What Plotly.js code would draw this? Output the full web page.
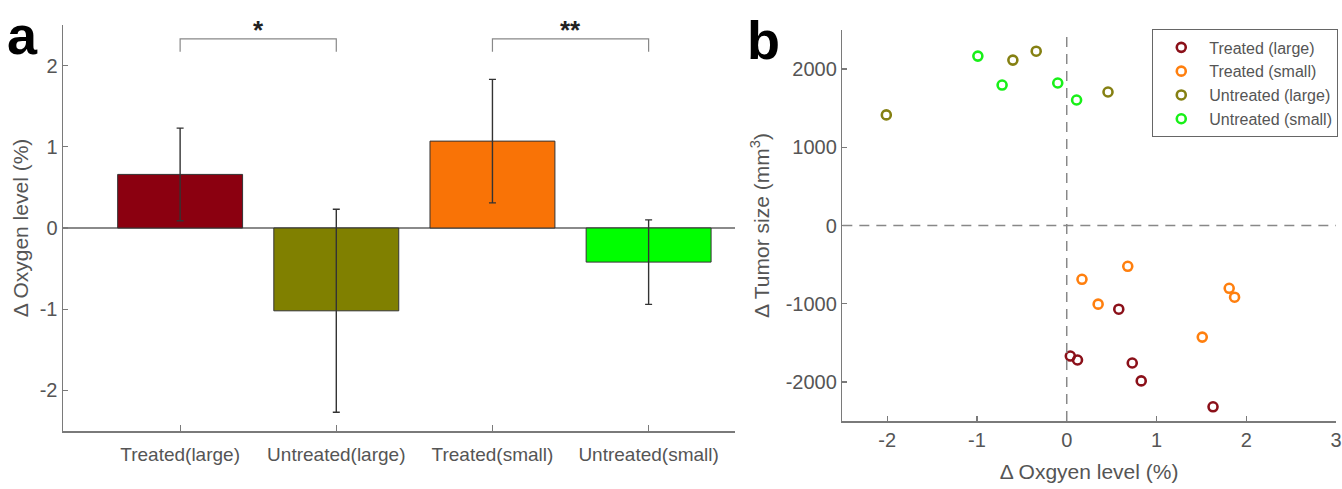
<!DOCTYPE html>
<html>
<head>
<meta charset="utf-8">
<script src="https://cdn.plot.ly/plotly-3.0.1.min.js"></script>
<style>html,body{margin:0;padding:0;background:#fff;}#chart{width:1342px;height:489px;}</style>
</head>
<body>
<div id="chart"></div>
<script>
// ---- Panel a data ----
const barCategories = ['Treated(large)', 'Untreated(large)', 'Treated(small)', 'Untreated(small)'];
const barMeans = [0.66, -1.02, 1.07, -0.42];
const barErrors = [0.57, 1.25, 0.76, 0.52];
const barColors = ['#8b0010', '#808000', '#f97306', '#00ff00'];
const sigPairs = [[0, 1, '*'], [2, 3, '**']];
const sigLevel = 2.33;
const aTickVals = [-2, -1, 0, 1, 2];
const aTickText = ['-2', '-1', '0', '1', '2'];

// ---- Panel b data ----
const seriesNames = ['Treated (large)', 'Treated (small)', 'Untreated (large)', 'Untreated (small)'];
const seriesColors = ['#8b1019', '#ff7f0e', '#858012', '#18f018'];
const treatedLargeX = [0.58, 0.04, 0.12, 0.73, 0.83, 1.63];
const treatedLargeY = [-1070, -1669, -1720, -1758, -1987, -2318];
const treatedSmallX = [0.17, 0.68, 0.35, 1.81, 1.87, 1.51];
const treatedSmallY = [-688, -522, -1006, -803, -917, -1427];
const untreatedLargeX = [-2.01, -0.60, -0.34, 0.46];
const untreatedLargeY = [1414, 2115, 2229, 1707];
const untreatedSmallX = [-0.99, -0.72, -0.10, 0.11];
const untreatedSmallY = [2166, 1796, 1822, 1605];
const bXTickVals = [-2, -1, 0, 1, 2, 3];
const bXTickText = ['-2', '-1', '0', '1', '2', '3'];
const bYTickVals = [-2000, -1000, 0, 1000, 2000];
const bYTickText = ['-2000', '-1000', '0', '1000', '2000'];

const FONT = 'Liberation Sans, Arial, sans-serif';
const AX = '#7a7a7a';
const TXT = '#555555';

const traces = [];
traces.push({
  type: 'bar', x: barCategories, y: barMeans, width: 0.8,
  marker: {color: barColors, line: {color: '#333', width: 1}},
  error_y: {type: 'data', array: barErrors, visible: true, color: '#333', thickness: 1.4, width: 3.5},
  xaxis: 'x', yaxis: 'y', showlegend: false, hoverinfo: 'skip'
});
const sx = [treatedLargeX, treatedSmallX, untreatedLargeX, untreatedSmallX];
const sy = [treatedLargeY, treatedSmallY, untreatedLargeY, untreatedSmallY];
for (let i = 0; i < seriesNames.length; i++) {
  traces.push({
    type: 'scatter', mode: 'markers', name: seriesNames[i], x: sx[i], y: sy[i],
    marker: {symbol: 'circle-open', size: 9, color: seriesColors[i], line: {width: 2.6, color: seriesColors[i]}},
    xaxis: 'x2', yaxis: 'y2'
  });
}

const shapes = [];
const annotations = [];
sigPairs.forEach(p => {
  shapes.push({type: 'path', xref: 'x', yref: 'y',
    path: `M ${p[0]} ${sigLevel - 0.16} L ${p[0]} ${sigLevel} L ${p[1]} ${sigLevel} L ${p[1]} ${sigLevel - 0.16}`,
    line: {color: '#888', width: 1.2}});
  annotations.push({xref: 'x', yref: 'y', x: (p[0] + p[1]) / 2, y: sigLevel - 0.1, text: '<b>' + p[2] + '</b>',
    showarrow: false, yanchor: 'bottom', font: {family: FONT, size: 26, color: '#222'}});
});
shapes.push({type: 'line', xref: 'x2', yref: 'y2', x0: 0, x1: 0, y0: -2500, y1: 2500,
  line: {color: '#888', width: 1.5, dash: '10px,7px'}});
shapes.push({type: 'line', xref: 'x2', yref: 'y2', x0: -2.5, x1: 3, y0: 0, y1: 0,
  line: {color: '#888', width: 1.5, dash: '10px,7px'}});

annotations.push({xref: 'paper', yref: 'paper', x: -0.032, y: 0.976, xanchor: 'center', yanchor: 'middle',
  text: '<b>a</b>', showarrow: false, font: {family: FONT, size: 54, color: '#000'}});
annotations.push({xref: 'paper', yref: 'paper', x: 0.550, y: 0.964, xanchor: 'center', yanchor: 'middle',
  text: '<b>b</b>', showarrow: false, font: {family: FONT, size: 54, color: '#000'}});

const axBase = {showgrid: false, showline: true, linecolor: AX, linewidth: 1.5, ticks: 'inside', ticklen: 5,
  tickcolor: AX, tickwidth: 1.2, mirror: false, automargin: false};

const layout = {
  width: 1342, height: 489,
  margin: {l: 63, r: 5, t: 25, b: 58},
  paper_bgcolor: '#fff', plot_bgcolor: '#fff',
  font: {family: FONT, color: TXT},
  showlegend: true,
  legend: {x: 1.001, xanchor: 'right', y: 0.989, yanchor: 'top', bordercolor: '#666', borderwidth: 1,
    bgcolor: '#fff', font: {family: FONT, size: 16, color: '#555'}, itemwidth: 46, tracegroupgap: 0},
  xaxis: Object.assign({}, axBase, {domain: [0, 0.5275], anchor: 'y', type: 'category', range: [-0.75, 3.55],
    tickfont: {size: 19, color: TXT}, ticklen: 6, ticklabelstandoff: 6}),
  yaxis: Object.assign({}, axBase, {domain: [0, 1], anchor: 'x', range: [-2.5, 2.5],
    tickvals: aTickVals, ticktext: aTickText,
    tickfont: {size: 20, color: TXT}, zeroline: true, zerolinecolor: '#8a8a8a', zerolinewidth: 1.3,
    title: {text: '\u0394 Oxygen level (%)', font: {size: 21, color: '#555'}, standoff: 5}}),
  xaxis2: Object.assign({}, axBase, {domain: [0.6122, 1], anchor: 'y2', range: [-2.5, 3],
    tickvals: bXTickVals, ticktext: bXTickText,
    tickfont: {size: 20, color: TXT}, zeroline: false,
    title: {text: '\u0394 Oxgyen level (%)', font: {size: 21, color: '#555'}, standoff: 15}}),
  yaxis2: Object.assign({}, axBase, {domain: [0.0246, 0.9877], anchor: 'x2', range: [-2500, 2500],
    tickvals: bYTickVals, ticktext: bYTickText, tickfont: {size: 20, color: TXT}, zeroline: false,
    title: {text: '\u0394 Tumor size (mm<sup>3</sup>)', font: {size: 21, color: '#555'}, standoff: 10}}),
  shapes: shapes,
  annotations: annotations
};

Plotly.newPlot('chart', traces, layout, {displayModeBar: false, staticPlot: true});
</script>
</body>
</html>
